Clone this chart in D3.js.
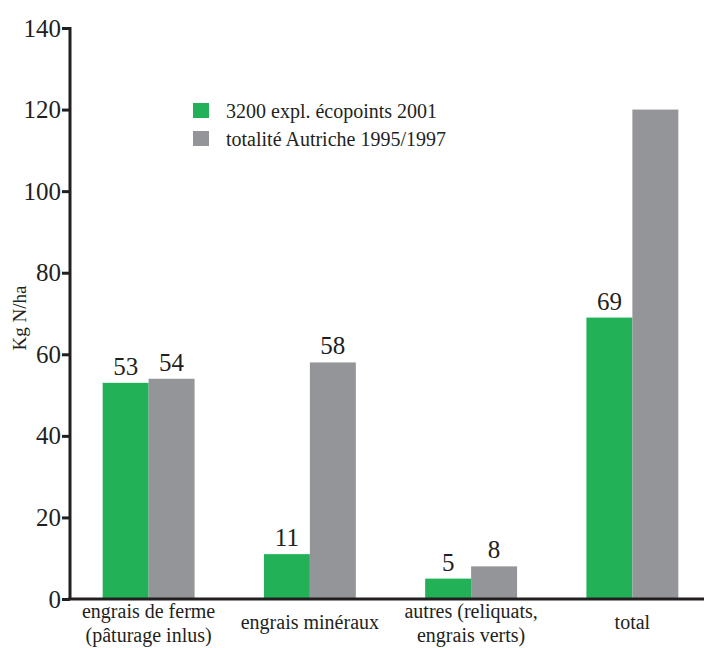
<!DOCTYPE html>
<html>
<head>
<meta charset="utf-8">
<script src="https://cdn.jsdelivr.net/npm/d3@7"></script>
</head>
<body>
<svg id="chart" width="704" height="648"></svg>
<script>
// Nitrogen input per hectare, by source
const categories = [
  ["engrais de ferme", "(pâturage inlus)"],
  ["engrais minéraux"],
  ["autres (reliquats,", "engrais verts)"],
  ["total"]
];
const seriesNames = ["3200 expl. écopoints 2001", "totalité Autriche 1995/1997"];
const ecopoints = [53, 11, 5, 69];
const autriche = [54, 58, 8, 120];
const showLabel = [[true, true], [true, true], [true, true], [true, false]];
const yTicks = [0, 20, 40, 60, 80, 100, 120, 140];
const colors = ["#22b157", "#939598"];

const FONT = "Liberation Serif";
const INK = "#231f20";

d3.select("body").style("margin", "0px").style("background", "#fff");
const svg = d3.select("#chart").style("display", "block");
const y = d3.scaleLinear().domain([0, 140]).range([599, 28]);
const x0 = d3.scaleBand().domain(d3.range(categories.length))
  .range([68, 713]).paddingInner(0.43).paddingOuter(0.215);
const x1 = d3.scaleBand().domain([0, 1]).range([0, x0.bandwidth()]);

const rows = categories.map((c, i) => ({ i, vals: [ecopoints[i], autriche[i]] }));

// bars
const groups = svg.append("g").selectAll("g.grp").data(rows).join("g")
  .attr("class", "grp")
  .attr("transform", d => `translate(${x0(d.i)},0)`);
groups.selectAll("rect").data(d => d.vals.map((v, s) => ({ v, s, i: d.i }))).join("rect")
  .attr("x", d => x1(d.s))
  .attr("width", x1.bandwidth())
  .attr("y", d => y(d.v))
  .attr("height", d => y(0) - y(d.v))
  .attr("fill", d => colors[d.s]);

// value labels
groups.selectAll("text.val").data(d => d.vals.map((v, s) => ({ v, s, i: d.i }))
    .filter(d => showLabel[d.i][d.s]))
  .join("text")
  .attr("class", "val")
  .attr("x", d => x1(d.s) + x1.bandwidth() / 2)
  .attr("y", d => y(d.v) - 8)
  .attr("text-anchor", "middle")
  .attr("font-family", FONT).attr("font-size", 25).attr("fill", INK)
  .text(d => d.v);

// y axis
const yAxis = svg.append("g").attr("transform", "translate(70,0)")
  .call(d3.axisLeft(y).tickValues(yTicks).tickSize(8).tickPadding(1));
yAxis.attr("font-family", FONT).attr("font-size", 25);
yAxis.select(".domain").attr("stroke", INK).attr("stroke-width", 3)
  .attr("d", `M0,${y(140) - 1}V${y(0) + 1}`);
yAxis.selectAll(".tick line").attr("stroke", INK).attr("stroke-width", 3);
yAxis.selectAll(".tick text")
  .attr("font-family", FONT).attr("font-size", 25).attr("fill", INK);

// x axis baseline
svg.append("line")
  .attr("x1", 68).attr("x2", 704)
  .attr("y1", y(0)).attr("y2", y(0))
  .attr("stroke", INK).attr("stroke-width", 3);

// category labels
const cat = svg.append("g").selectAll("text").data(rows).join("text")
  .attr("x", d => x0(d.i) + x0.bandwidth() / 2)
  .attr("y", d => categories[d.i].length > 1 ? 618 : 629)
  .attr("text-anchor", "middle")
  .attr("font-family", FONT).attr("font-size", 20).attr("fill", INK);
cat.selectAll("tspan").data(d => categories[d.i]).join("tspan")
  .attr("x", function () { return d3.select(this.parentNode).attr("x"); })
  .attr("dy", (d, k) => k === 0 ? 0 : 24)
  .text(d => d);

// y title
svg.append("text")
  .attr("transform", "translate(26,318) rotate(-90)")
  .attr("text-anchor", "middle")
  .attr("font-family", FONT).attr("font-size", 19).attr("fill", INK)
  .text("Kg N/ha");

// legend
const leg = svg.append("g").selectAll("g").data(seriesNames).join("g")
  .attr("transform", (d, k) => `translate(193,${103 + k * 28})`);
leg.append("rect").attr("width", 16).attr("height", 15)
  .attr("fill", (d, k) => colors[k]);
leg.append("text").attr("x", 33).attr("y", 15)
  .attr("font-family", FONT).attr("font-size", 20).attr("fill", INK)
  .text(d => d);
</script>
</body>
</html>
